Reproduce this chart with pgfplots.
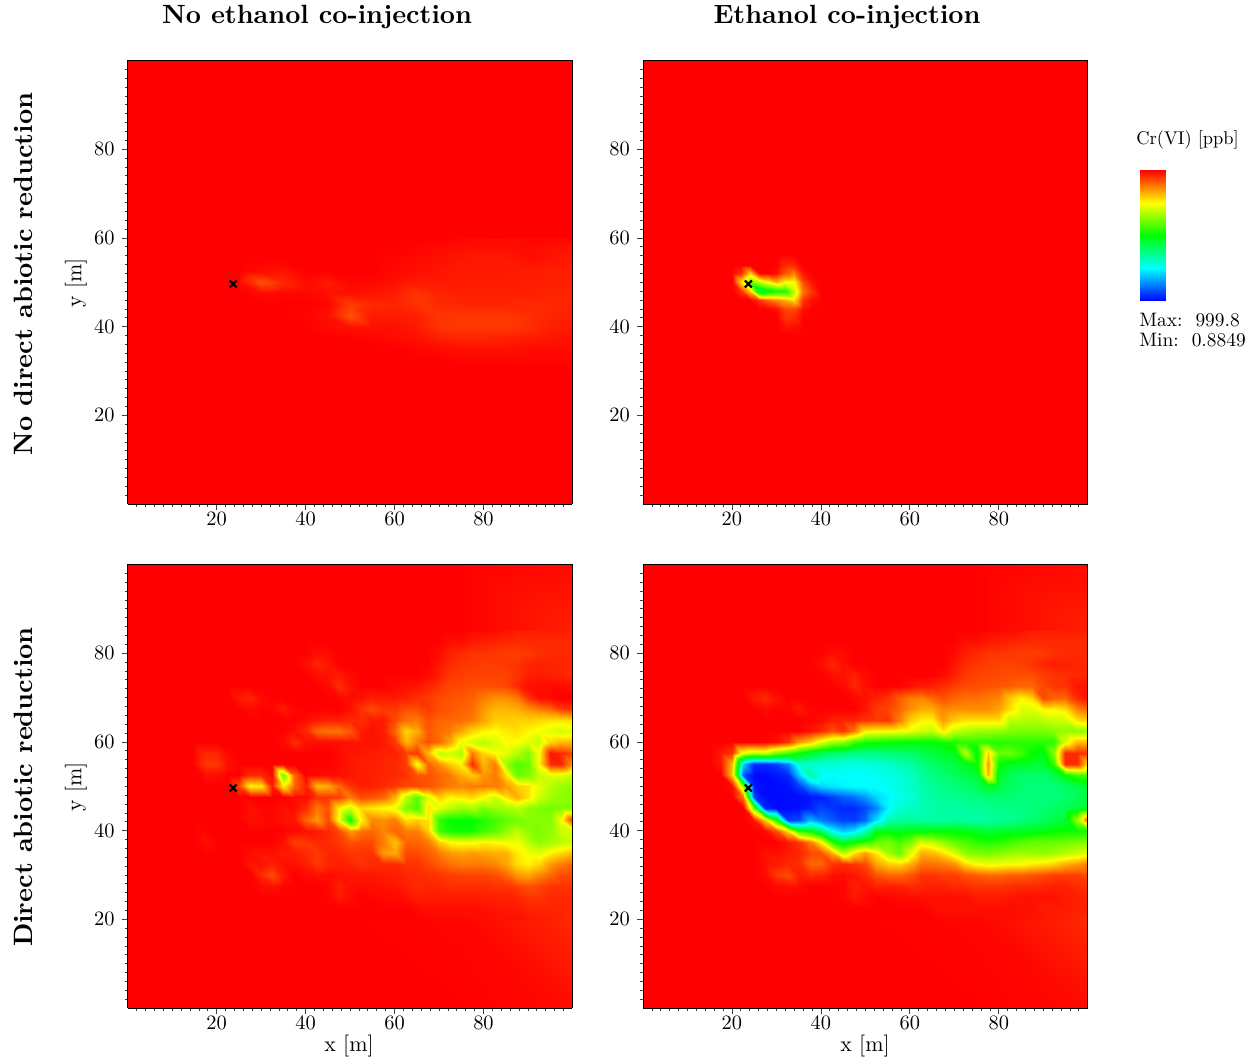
\documentclass[border=0pt]{standalone}
\usepackage{pgfplots}
\usepackage{pgfplotstable}
\pgfplotsset{compat=1.18}

% Cr(VI) in ppb, rows from top to bottom, x = 25,30,...,100, y = 60,57.5,...,30
\pgfplotstableread[row sep=crcr,header=false]{
1000\\1000\\1000\\1000\\1000\\1000\\1000\\1000\\1000\\1000\\995\\990\\990\\995\\995\\995\\%
1000\\1000\\1000\\1000\\1000\\1000\\1000\\1000\\995\\990\\985\\985\\985\\990\\985\\980\\%
1000\\1000\\1000\\1000\\1000\\1000\\1000\\995\\990\\985\\980\\975\\975\\985\\980\\975\\%
1000\\990\\980\\1000\\1000\\1000\\1000\\990\\985\\980\\975\\975\\975\\975\\970\\970\\%
990\\920\\960\\990\\975\\995\\995\\985\\975\\975\\975\\975\\975\\970\\970\\970\\%
1000\\990\\995\\995\\985\\985\\980\\970\\950\\965\\970\\970\\970\\970\\965\\965\\%
1000\\1000\\1000\\1000\\995\\940\\960\\965\\950\\960\\965\\965\\965\\960\\960\\965\\%
1000\\1000\\1000\\995\\985\\920\\975\\975\\970\\950\\945\\945\\945\\955\\965\\970\\%
1000\\1000\\1000\\1000\\990\\985\\985\\985\\975\\950\\945\\945\\945\\955\\970\\975\\%
1000\\1000\\1000\\1000\\1000\\1000\\995\\990\\985\\970\\965\\965\\970\\975\\980\\985\\%
1000\\1000\\1000\\1000\\1000\\1000\\1000\\1000\\995\\990\\985\\985\\985\\990\\990\\990\\%
1000\\1000\\1000\\1000\\1000\\1000\\1000\\1000\\1000\\1000\\995\\995\\995\\995\\995\\995\\%
1000\\1000\\1000\\1000\\1000\\1000\\1000\\1000\\1000\\1000\\1000\\1000\\1000\\1000\\1000\\1000\\%
}\tabA

% x = 20,22,...,40, y = 56,54,...,38
\pgfplotstableread[row sep=crcr,header=false]{
1000\\1000\\1000\\1000\\1000\\1000\\990\\1000\\1000\\1000\\1000\\%
1000\\1000\\1000\\1000\\1000\\1000\\960\\960\\1000\\1000\\1000\\%
1000\\960\\800\\1000\\1000\\990\\920\\880\\980\\1000\\1000\\%
1000\\780\\600\\680\\750\\820\\750\\750\\930\\985\\1000\\%
1000\\950\\800\\420\\470\\510\\520\\680\\890\\950\\1000\\%
1000\\1000\\1000\\950\\900\\870\\830\\780\\950\\990\\1000\\%
1000\\1000\\1000\\1000\\1000\\990\\930\\930\\990\\1000\\1000\\%
1000\\1000\\1000\\1000\\1000\\1000\\950\\960\\1000\\1000\\1000\\%
1000\\1000\\1000\\1000\\1000\\1000\\985\\990\\1000\\1000\\1000\\%
1000\\1000\\1000\\1000\\1000\\1000\\1000\\1000\\1000\\1000\\1000\\%
}\tabB

% x = 15,17.5,...,100, y = 85,82.5,...,20
\pgfplotstableread[row sep=crcr,header=false]{
1000\\1000\\1000\\1000\\1000\\1000\\1000\\1000\\1000\\1000\\1000\\1000\\1000\\1000\\1000\\1000\\1000\\1000\\1000\\1000\\1000\\1000\\1000\\1000\\1000\\990\\990\\990\\980\\970\\970\\970\\970\\970\\970\\%
1000\\1000\\1000\\1000\\1000\\1000\\1000\\1000\\1000\\1000\\1000\\1000\\1000\\1000\\1000\\1000\\1000\\1000\\1000\\1000\\1000\\1000\\1000\\985\\985\\975\\970\\965\\960\\960\\960\\960\\960\\960\\960\\%
1000\\1000\\1000\\1000\\1000\\1000\\1000\\1000\\1000\\1000\\1000\\985\\990\\1000\\1000\\1000\\1000\\1000\\1000\\1000\\1000\\1000\\990\\970\\960\\950\\950\\945\\940\\940\\945\\955\\960\\960\\960\\%
1000\\1000\\1000\\1000\\1000\\1000\\1000\\1000\\1000\\1000\\985\\965\\980\\1000\\1000\\1000\\1000\\1000\\1000\\1000\\1000\\1000\\980\\960\\950\\945\\940\\940\\945\\950\\965\\970\\965\\965\\965\\%
1000\\1000\\1000\\1000\\1000\\1000\\1000\\1000\\1000\\1000\\1000\\985\\985\\975\\990\\1000\\1000\\1000\\1000\\1000\\1000\\990\\970\\945\\940\\935\\935\\935\\935\\950\\970\\975\\970\\965\\960\\%
1000\\1000\\1000\\1000\\1000\\1000\\1000\\1000\\1000\\1000\\1000\\1000\\990\\955\\985\\1000\\1000\\1000\\990\\985\\980\\965\\950\\930\\930\\925\\925\\925\\930\\960\\985\\990\\990\\990\\985\\%
1000\\1000\\1000\\1000\\975\\965\\990\\1000\\1000\\1000\\1000\\1000\\1000\\995\\990\\985\\970\\975\\975\\970\\955\\945\\925\\920\\915\\905\\880\\860\\860\\880\\950\\985\\990\\1000\\1000\\%
1000\\1000\\1000\\1000\\1000\\990\\1000\\995\\975\\995\\1000\\1000\\1000\\1000\\985\\950\\925\\945\\945\\920\\925\\945\\925\\915\\905\\895\\850\\820\\820\\830\\855\\880\\900\\945\\950\\%
1000\\1000\\1000\\1000\\1000\\1000\\1000\\1000\\1000\\1000\\990\\975\\970\\970\\960\\955\\975\\980\\930\\890\\880\\920\\900\\900\\895\\880\\840\\800\\800\\795\\800\\790\\780\\780\\780\\%
1000\\1000\\1000\\1000\\1000\\1000\\1000\\1000\\1000\\990\\960\\900\\885\\885\\915\\975\\985\\975\\900\\790\\830\\915\\895\\880\\840\\790\\760\\750\\770\\780\\760\\740\\720\\700\\720\\%
1000\\1000\\1000\\1000\\1000\\1000\\1000\\1000\\990\\960\\985\\990\\990\\990\\985\\980\\985\\975\\945\\820\\880\\925\\895\\840\\730\\700\\680\\710\\750\\750\\720\\690\\790\\820\\820\\%
1000\\965\\965\\995\\1000\\1000\\1000\\1000\\1000\\1000\\1000\\1000\\1000\\990\\980\\980\\975\\970\\970\\940\\950\\820\\680\\700\\660\\880\\790\\750\\730\\680\\620\\750\\980\\960\\930\\%
990\\945\\950\\985\\1000\\1000\\1000\\1000\\1000\\1000\\1000\\1000\\1000\\990\\980\\970\\970\\965\\960\\940\\740\\900\\860\\800\\760\\960\\820\\880\\650\\580\\600\\760\\960\\970\\850\\%
1000\\985\\990\\1000\\1000\\960\\960\\990\\600\\900\\1000\\990\\990\\985\\980\\975\\970\\965\\960\\950\\920\\920\\900\\880\\830\\800\\850\\880\\780\\600\\620\\700\\720\\720\\680\\%
1000\\1000\\1000\\1000\\930\\760\\770\\970\\760\\900\\970\\820\\830\\900\\950\\970\\970\\960\\950\\930\\930\\920\\900\\880\\870\\880\\880\\880\\850\\800\\780\\730\\680\\650\\640\\%
1000\\1000\\1000\\1000\\1000\\1000\\1000\\1000\\1000\\990\\990\\950\\950\\940\\880\\930\\920\\900\\830\\680\\580\\720\\800\\760\\770\\790\\750\\700\\780\\830\\780\\700\\660\\640\\620\\%
1000\\1000\\1000\\1000\\1000\\985\\995\\995\\985\\990\\960\\880\\920\\760\\700\\790\\770\\750\\730\\620\\570\\780\\720\\680\\650\\670\\620\\650\\660\\680\\640\\620\\610\\620\\630\\%
1000\\1000\\1000\\1000\\1000\\985\\990\\995\\985\\980\\900\\850\\930\\740\\510\\760\\870\\860\\880\\780\\800\\780\\550\\500\\500\\500\\530\\560\\590\\610\\630\\630\\630\\740\\950\\%
1000\\1000\\1000\\1000\\1000\\1000\\1000\\1000\\1000\\990\\985\\975\\960\\930\\850\\890\\900\\870\\900\\880\\880\\800\\560\\520\\510\\520\\560\\590\\640\\690\\640\\620\\640\\700\\700\\%
1000\\985\\1000\\1000\\1000\\1000\\1000\\1000\\985\\940\\945\\960\\960\\945\\920\\930\\930\\880\\810\\900\\900\\880\\800\\750\\740\\740\\760\\750\\740\\740\\680\\640\\660\\680\\700\\%
1000\\1000\\1000\\1000\\1000\\990\\980\\985\\975\\975\\960\\945\\965\\960\\950\\950\\950\\850\\830\\930\\930\\910\\880\\850\\840\\850\\840\\830\\830\\770\\740\\720\\760\\790\\820\\%
1000\\1000\\1000\\1000\\1000\\980\\985\\970\\985\\985\\970\\945\\965\\970\\965\\950\\960\\960\\960\\950\\950\\930\\910\\890\\880\\880\\880\\870\\840\\780\\760\\790\\850\\880\\900\\%
1000\\1000\\1000\\1000\\1000\\1000\\960\\925\\975\\1000\\990\\985\\990\\985\\980\\980\\980\\975\\970\\965\\960\\955\\950\\940\\935\\935\\935\\925\\900\\850\\840\\870\\900\\930\\930\\%
1000\\1000\\1000\\1000\\1000\\1000\\990\\985\\995\\1000\\1000\\1000\\995\\970\\985\\990\\985\\985\\980\\970\\960\\965\\960\\955\\955\\955\\955\\950\\950\\935\\920\\935\\950\\950\\950\\%
1000\\1000\\1000\\1000\\1000\\1000\\1000\\1000\\1000\\1000\\1000\\1000\\995\\975\\990\\1000\\995\\990\\990\\985\\970\\975\\975\\975\\975\\975\\970\\970\\970\\965\\950\\950\\960\\960\\960\\%
1000\\1000\\1000\\1000\\1000\\1000\\1000\\1000\\1000\\1000\\1000\\1000\\1000\\1000\\1000\\1000\\1000\\1000\\1000\\1000\\990\\985\\985\\985\\985\\985\\985\\980\\975\\975\\965\\965\\965\\965\\965\\%
1000\\1000\\1000\\1000\\1000\\1000\\1000\\1000\\1000\\1000\\1000\\1000\\1000\\1000\\1000\\1000\\1000\\1000\\1000\\1000\\1000\\995\\995\\995\\995\\990\\990\\985\\985\\985\\980\\975\\970\\965\\960\\%
}\tabC

% x = 15,17.5,...,100, y = 85,82.5,...,20
\pgfplotstableread[row sep=crcr,header=false]{
1000\\1000\\1000\\1000\\1000\\1000\\1000\\1000\\1000\\1000\\1000\\1000\\1000\\1000\\1000\\1000\\1000\\1000\\1000\\1000\\1000\\1000\\1000\\1000\\1000\\990\\990\\990\\980\\970\\970\\970\\970\\970\\970\\%
1000\\1000\\1000\\1000\\1000\\1000\\1000\\1000\\1000\\1000\\1000\\1000\\1000\\1000\\1000\\1000\\1000\\1000\\1000\\1000\\1000\\1000\\1000\\985\\985\\975\\970\\965\\960\\960\\960\\960\\960\\960\\960\\%
1000\\1000\\1000\\1000\\1000\\1000\\1000\\1000\\1000\\1000\\1000\\985\\990\\1000\\1000\\1000\\1000\\1000\\1000\\1000\\1000\\1000\\990\\970\\960\\950\\950\\945\\940\\940\\945\\955\\960\\960\\960\\%
1000\\1000\\1000\\1000\\1000\\1000\\1000\\1000\\1000\\1000\\985\\965\\985\\1000\\1000\\1000\\1000\\1000\\1000\\1000\\1000\\1000\\980\\960\\945\\940\\935\\935\\940\\950\\965\\975\\970\\965\\965\\%
1000\\1000\\1000\\1000\\1000\\1000\\1000\\1000\\1000\\1000\\1000\\985\\985\\970\\990\\1000\\1000\\1000\\1000\\1000\\1000\\990\\970\\945\\935\\930\\930\\925\\925\\925\\940\\950\\955\\960\\965\\%
1000\\1000\\1000\\1000\\1000\\1000\\1000\\1000\\1000\\1000\\1000\\1000\\990\\965\\985\\1000\\1000\\1000\\985\\975\\970\\955\\940\\925\\925\\920\\915\\910\\900\\900\\930\\950\\950\\980\\985\\%
1000\\1000\\1000\\1000\\975\\960\\985\\1000\\1000\\1000\\1000\\1000\\1000\\995\\985\\970\\950\\910\\880\\870\\900\\920\\900\\890\\890\\880\\870\\800\\760\\790\\930\\900\\900\\960\\985\\%
1000\\1000\\1000\\1000\\1000\\990\\1000\\995\\975\\995\\1000\\1000\\1000\\1000\\980\\945\\930\\905\\860\\830\\830\\870\\860\\860\\860\\860\\840\\780\\720\\720\\760\\760\\780\\870\\900\\%
1000\\1000\\1000\\1000\\1000\\1000\\1000\\1000\\1000\\1000\\990\\970\\965\\965\\950\\945\\950\\880\\800\\760\\760\\850\\800\\780\\780\\780\\780\\680\\680\\670\\680\\700\\700\\780\\800\\%
1000\\1000\\1000\\1000\\1000\\1000\\1000\\1000\\1000\\985\\960\\920\\950\\880\\760\\750\\750\\740\\730\\700\\690\\770\\690\\670\\650\\650\\640\\620\\620\\620\\620\\630\\640\\640\\650\\%
1000\\1000\\1000\\1000\\1000\\1000\\990\\950\\850\\800\\720\\660\\640\\560\\520\\520\\500\\500\\490\\490\\490\\520\\520\\540\\540\\540\\530\\540\\540\\540\\540\\540\\720\\820\\820\\%
1000\\975\\950\\720\\680\\700\\620\\560\\500\\450\\410\\390\\380\\370\\370\\370\\380\\390\\400\\420\\440\\460\\470\\690\\480\\800\\600\\610\\560\\500\\480\\640\\960\\960\\950\\%
1000\\975\\820\\200\\40\\40\\60\\130\\290\\300\\290\\290\\280\\280\\280\\290\\300\\320\\340\\370\\400\\420\\440\\470\\500\\850\\500\\470\\460\\450\\450\\560\\960\\960\\780\\%
1000\\1000\\800\\80\\10\\10\\20\\40\\200\\340\\260\\250\\250\\250\\250\\260\\270\\290\\310\\340\\370\\390\\410\\430\\450\\830\\450\\420\\400\\400\\400\\430\\500\\560\\560\\%
1000\\1000\\990\\650\\20\\10\\10\\15\\60\\150\\210\\230\\240\\250\\250\\250\\260\\280\\300\\330\\350\\370\\380\\390\\420\\470\\430\\410\\390\\380\\380\\390\\400\\430\\450\\%
1000\\1000\\1000\\880\\60\\10\\10\\10\\10\\20\\30\\60\\90\\110\\150\\210\\240\\270\\290\\320\\340\\350\\360\\370\\380\\390\\390\\390\\380\\380\\380\\380\\390\\410\\440\\%
1000\\1000\\1000\\1000\\600\\40\\10\\10\\15\\30\\70\\50\\40\\40\\70\\130\\240\\300\\310\\320\\340\\340\\340\\340\\350\\360\\370\\370\\370\\380\\390\\400\\420\\440\\470\\%
1000\\1000\\1000\\1000\\980\\800\\540\\60\\70\\180\\120\\90\\60\\60\\100\\220\\330\\350\\350\\340\\340\\340\\350\\340\\340\\340\\350\\360\\380\\390\\410\\430\\450\\650\\920\\%
1000\\1000\\1000\\1000\\1000\\990\\930\\780\\550\\500\\400\\260\\200\\230\\320\\480\\490\\470\\480\\490\\500\\500\\490\\490\\470\\450\\460\\470\\470\\480\\490\\500\\510\\510\\520\\%
1000\\1000\\1000\\1000\\1000\\1000\\1000\\975\\950\\880\\760\\540\\450\\500\\550\\600\\620\\570\\620\\720\\690\\640\\600\\570\\540\\530\\540\\560\\580\\600\\600\\600\\610\\620\\630\\%
1000\\1000\\1000\\1000\\1000\\985\\985\\975\\965\\930\\920\\830\\680\\780\\850\\770\\660\\600\\720\\830\\820\\780\\720\\640\\620\\620\\630\\650\\660\\650\\640\\660\\680\\700\\730\\%
1000\\1000\\1000\\1000\\1000\\985\\975\\960\\960\\900\\900\\950\\960\\950\\930\\840\\800\\790\\830\\890\\890\\880\\860\\790\\750\\730\\740\\750\\750\\770\\780\\800\\830\\850\\880\\%
1000\\1000\\1000\\1000\\1000\\990\\945\\925\\970\\960\\965\\985\\990\\980\\960\\920\\900\\900\\920\\950\\950\\940\\940\\920\\910\\900\\900\\910\\910\\920\\930\\940\\940\\940\\930\\%
1000\\1000\\1000\\1000\\1000\\1000\\990\\985\\990\\1000\\1000\\1000\\995\\970\\980\\970\\970\\970\\960\\965\\970\\970\\960\\960\\950\\950\\950\\955\\960\\960\\965\\970\\970\\960\\955\\%
1000\\1000\\1000\\1000\\1000\\1000\\1000\\1000\\1000\\1000\\1000\\1000\\995\\975\\990\\1000\\995\\990\\990\\985\\985\\985\\985\\985\\975\\975\\975\\980\\985\\985\\985\\985\\975\\970\\965\\%
1000\\1000\\1000\\1000\\1000\\1000\\1000\\1000\\1000\\1000\\1000\\1000\\1000\\1000\\1000\\1000\\1000\\1000\\1000\\1000\\990\\985\\985\\985\\985\\985\\985\\990\\985\\985\\975\\975\\975\\970\\970\\%
1000\\1000\\1000\\1000\\1000\\1000\\1000\\1000\\1000\\1000\\1000\\1000\\1000\\1000\\1000\\1000\\1000\\1000\\1000\\1000\\1000\\995\\995\\995\\995\\990\\990\\990\\985\\985\\980\\975\\970\\965\\960\\%
}\tabD

\pgfplotstableread{
x y v
0 0 1000
15 0 1000
50 0 1000
75 0 1000
100 0 990
0 20 1000
15 20 1000
50 20 1000
75 20 995
100 20 960
0 85 1000
15 85 1000
50 85 1000
75 85 1000
100 85 970
0 100 1000
15 100 1000
50 100 1000
75 100 1000
100 100 990
}\tabBack

\pgfplotsset{
  colormap={cr}{rgb255(0)=(0,0,255) rgb255(250)=(0,255,255) rgb255(500)=(0,255,0) rgb255(750)=(255,255,0) rgb255(1000)=(255,0,0)},
  panel/.style={
    view={0}{90}, anchor=south west, scale only axis,
    width=444.7bp, height=443.5bp,
    xmin=0, xmax=100, ymin=0, ymax=100, zmin=0, zmax=1100,
    point meta min=0, point meta max=1000,
    xtick={20,40,60,80}, ytick={20,40,60,80},
    minor xtick={2,4,...,98}, minor ytick={2,4,...,98},
    tick align=outside, tick pos=left,
    major tick length=6bp, minor tick length=3bp,
    tick style={black!75, line width=0.7bp},
    axis line style={line width=0.8bp},
    tick label style={scale=2.05},
    xticklabel style={yshift=2.5bp},
    axis on top,
  },
  field/.style={surf, shader=interp},
  well/.style={only marks, mark=x, mark size=5bp, black, mark options={line width=2.2bp}},
}

\begin{document}
\begin{tikzpicture}
\useasboundingbox (0,0) rectangle (1257bp,1059bp);

\begin{axis}[panel, at={(127.7bp,555bp)}]
  \addplot3[field, mesh/cols=2] coordinates {(0,0,1000) (100,0,1000) (0,100,1000) (100,100,1000)};
  \addplot3[field, mesh/cols=16] table[x index=0, y index=0, z index=0, x expr={25+5*mod(\coordindex,16)}, y expr={60-2.5*floor(\coordindex/16)}] {\tabA};
  \addplot3[well] coordinates {(23.7,49.6,1000)};
\end{axis}

\begin{axis}[panel, at={(643bp,555bp)}]
  \addplot3[field, mesh/cols=2] coordinates {(0,0,1000) (100,0,1000) (0,100,1000) (100,100,1000)};
  \addplot3[field, mesh/cols=11] table[x index=0, y index=0, z index=0, x expr={20+2*mod(\coordindex,11)}, y expr={56-2*floor(\coordindex/11)}] {\tabB};
  \addplot3[well] coordinates {(23.7,49.6,1000)};
\end{axis}

\begin{axis}[panel, at={(127.7bp,51bp)}]
  \addplot3[field, mesh/cols=5] table[x=x, y=y, z=v] {\tabBack};
  \addplot3[field, mesh/cols=35] table[x index=0, y index=0, z index=0, x expr={15+2.5*mod(\coordindex,35)}, y expr={85-2.5*floor(\coordindex/35)}] {\tabC};
  \addplot3[well] coordinates {(23.7,49.6,1000)};
\end{axis}

\begin{axis}[panel, at={(643bp,51bp)}]
  \addplot3[field, mesh/cols=5] table[x=x, y=y, z=v] {\tabBack};
  \addplot3[field, mesh/cols=35] table[x index=0, y index=0, z index=0, x expr={15+2.5*mod(\coordindex,35)}, y expr={85-2.5*floor(\coordindex/35)}] {\tabD};
  \addplot3[well] coordinates {(23.7,49.6,1000)};
\end{axis}

% colour bar
\begin{axis}[at={(1139.5bp,758bp)}, anchor=south west, scale only axis, width=26.5bp, height=131bp,
    hide axis, view={0}{90}, xmin=0, xmax=1, ymin=0, ymax=1000, point meta min=0, point meta max=1000]
  \addplot3[field, mesh/cols=2] coordinates {
    (0,0,0) (1,0,0)
    (0,250,250) (1,250,250)
    (0,500,500) (1,500,500)
    (0,750,750) (1,750,750)
    (0,1000,1000) (1,1000,1000)};
\end{axis}

\node[scale=2.65] at (317bp,1042bp) {\textbf{No ethanol co-injection}};
\node[scale=2.65] at (847bp,1042bp) {\textbf{Ethanol co-injection}};
\node[scale=2.66,rotate=90] at (23.5bp,785bp) {\textbf{No direct abiotic reduction}};
\node[scale=2.66,rotate=90] at (23.5bp,272bp) {\textbf{Direct abiotic reduction}};
\node[scale=2.2,rotate=90] at (76bp,776bp) {y [m]};
\node[scale=2.2,rotate=90] at (76bp,272bp) {y [m]};
\node[scale=2.2] at (349bp,13bp) {x [m]};
\node[scale=2.2] at (865bp,13bp) {x [m]};
\node[scale=1.85,anchor=west,inner sep=0pt] at (1136bp,919.5bp) {Cr(VI) [ppb]};
\node[scale=1.95,anchor=west,inner sep=0pt] at (1139bp,739bp) {Max:\ \ 999.8};
\node[scale=1.95,anchor=west,inner sep=0pt] at (1139bp,719bp) {Min:\ \ 0.8849};
\end{tikzpicture}
\end{document}
